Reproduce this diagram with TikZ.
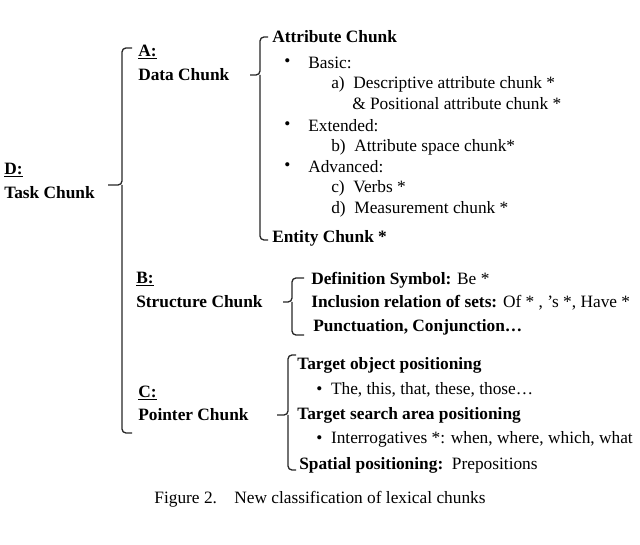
\documentclass[tikz,border=0pt]{standalone}
\usepackage{fontspec}
\setmainfont{Liberation Serif}
\begin{document}
\begin{tikzpicture}[x=0.75pt,y=-0.75pt,
  t/.style={anchor=west,inner sep=0pt,font=\fontsize{13}{15}\selectfont},
  hb/.style={t,font=\fontsize{13}{15}\selectfont\bfseries},
  br/.style={line width=1pt,rounded corners=3pt,color=black!85}]
\useasboundingbox (0,0) rectangle (640,545);
% D
\node[hb] (D) at (4,170) {\underline{D:}};
\node[hb] (Dt) at (4,193) {Task Chunk};
\draw[br] (132,48) -- (122,48) -- (122,185) -- (108,185);
\draw[br] (122,185) -- (122,433) -- (132,433);
% A
\node[hb] (A) at (138,52) {\underline{A:}};
\node[hb] (At) at (138,75) {Data Chunk};
\draw[br] (268,37) -- (260,37) -- (260,75) -- (250,75);
\draw[br] (260,75) -- (260,240) -- (268,240);
\node[hb] (a1) at (272,37) {Attribute Chunk};
\node[t] (b1) at (284,63) {•};
\node[t] (a2) at (308,63) {Basic:};
\node[t] (a3) at (331,84) {a)\ \ Descriptive attribute chunk *};
\node[t] (a4) at (352,104) {\& Positional attribute chunk *};
\node[t] (b2) at (284,126) {•};
\node[t] (a5) at (308,126) {Extended:};
\node[t] (a6) at (331,147) {b)\ \ Attribute space chunk*};
\node[t] (b3) at (284,167) {•};
\node[t] (a7) at (308,167) {Advanced:};
\node[t] (a8) at (331,188) {c)\ \ Verbs *};
\node[t] (a9) at (331,209) {d)\ \ Measurement chunk *};
\node[hb] (a10) at (272,238) {Entity Chunk *};
% B
\node[hb] (B) at (136,279) {\underline{B:}};
\node[hb] (Bt) at (136,302) {Structure Chunk};
\draw[br] (304,278) -- (292,278) -- (292,302) -- (283,302);
\draw[br] (292,302) -- (292,335) -- (304,335);
\node[t] (s1) at (311,280) {\textbf{Definition Symbol:} Be *};
\node[t] (s2) at (311,303) {\textbf{Inclusion relation of sets:} Of * , 's *, Have *};
\node[hb] (s3) at (313,327) {Punctuation, Conjunction…};
% C
\node[hb] (C) at (138,393) {\underline{C:}};
\node[hb] (Ct) at (138,415) {Pointer Chunk};
\draw[br] (296,355) -- (288,355) -- (288,415) -- (277,415);
\draw[br] (288,415) -- (288,470) -- (296,470);
\node[hb] (c1) at (297,365) {Target object positioning};
\node[t] (c2) at (316,390) {•\ \ The, this, that, these, those…};
\node[hb] (c3) at (297,415) {Target search area positioning};
\node[t] (c4) at (316,439) {•\ \ Interrogatives *: when, where, which, what};
\node[t] (c5) at (299,465) {\textbf{Spatial positioning:}\ \ Prepositions};
% caption
\node[font=\fontsize{13}{15}\selectfont,inner sep=0pt] (cap) at (320,499) {Figure 2.\quad New classification of lexical chunks};
\end{tikzpicture}
\end{document}
